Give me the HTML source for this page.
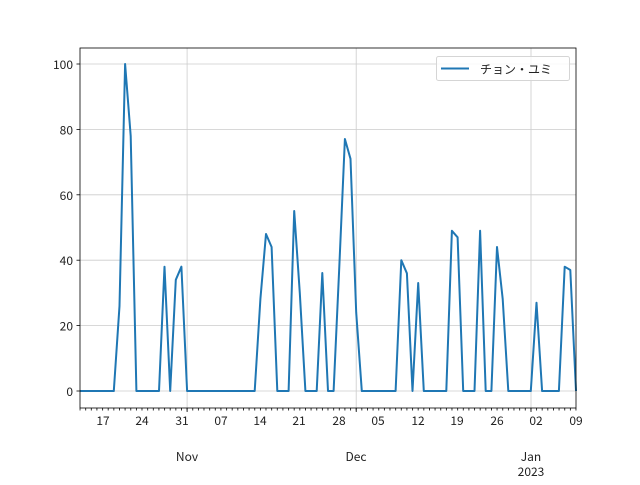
<!DOCTYPE html>
<html><head><meta charset="utf-8"><style>
html,body{margin:0;padding:0;background:#fff;}
svg text{font-family:"Noto Sans CJK JP","DejaVu Sans",sans-serif;font-size:12px;fill:#222;}
</style></head><body>
<svg width="640" height="480" xmlns="http://www.w3.org/2000/svg">
<defs>
<pattern id="tk" x="79.6" y="408" width="5.636" height="3" patternUnits="userSpaceOnUse">
<rect x="0" y="0" width="0.8" height="3" fill="#000"/>
</pattern>
</defs>
<rect width="640" height="480" fill="#fff"/>
<g stroke="#cccccc" stroke-width="0.8">
<line x1="80" x2="576" y1="391" y2="391"/><line x1="80" x2="576" y1="325.6" y2="325.6"/>
<line x1="80" x2="576" y1="260.2" y2="260.2"/><line x1="80" x2="576" y1="194.8" y2="194.8"/>
<line x1="80" x2="576" y1="129.4" y2="129.4"/><line x1="80" x2="576" y1="64" y2="64"/>
<line x1="187.1" x2="187.1" y1="48" y2="408"/><line x1="356.2" x2="356.2" y1="48" y2="408"/>
<line x1="531" x2="531" y1="48" y2="408"/>
</g>
<polyline fill="none" stroke="#1f77b4" stroke-width="2" stroke-linejoin="round" points="
80,391 113.8,391 119.5,306 125.1,64 130.7,136 136.4,391 159,391 164.5,266.7 170.2,391 175.8,279.8 181.4,266.7 187.1,391 254.7,391 260.4,299 266,234 271.6,247 277.3,391 288.6,391 294.2,211 299.8,293 305.4,391 316.7,391 322.3,273 328,391 333.6,391 339.3,266.7 344.9,139 350.5,158.8 356.2,312.5 361.8,391 395.6,391 401.3,260.2 406.9,273.3 412.5,391 418.2,283 423.8,391 446.3,391 451.9,230.8 457.6,237.3 463.2,391 474.5,391 480.1,230.8 485.7,391 491.4,391 497,247 502.7,299 508.3,391 530.8,391 536.5,302.7 542.1,391 558.9,391 564.7,266.7 570.3,270 576,391"/>
<rect x="80" y="48" width="496" height="360" fill="none" stroke="#000" stroke-width="0.8"/>
<g stroke="#000" stroke-width="0.8">
<line x1="76.5" x2="80" y1="391" y2="391"/><line x1="76.5" x2="80" y1="325.6" y2="325.6"/>
<line x1="76.5" x2="80" y1="260.2" y2="260.2"/><line x1="76.5" x2="80" y1="194.8" y2="194.8"/>
<line x1="76.5" x2="80" y1="129.4" y2="129.4"/><line x1="76.5" x2="80" y1="64" y2="64"/>
<line x1="187.1" x2="187.1" y1="408" y2="412"/><line x1="356.2" x2="356.2" y1="408" y2="412"/>
<line x1="531" x2="531" y1="408" y2="412"/>
</g>
<rect x="79.6" y="408" width="497" height="2.5" fill="url(#tk)"/>
<g text-anchor="end">
<text x="73" y="396">0</text><text x="73" y="330.6">20</text><text x="73" y="265.2">40</text>
<text x="73" y="199.8">60</text><text x="73" y="134.4">80</text><text x="73" y="69">100</text>
</g>
<g text-anchor="middle">
<text x="103" y="425">17</text><text x="142" y="425">24</text><text x="182" y="425">31</text>
<text x="221" y="425">07</text><text x="260" y="425">14</text><text x="299" y="425">21</text>
<text x="339" y="425">28</text><text x="378" y="425">05</text><text x="418" y="425">12</text>
<text x="457" y="425">19</text><text x="497" y="425">26</text><text x="536" y="425">02</text>
<text x="576" y="425">09</text>
<text x="187" y="461">Nov</text><text x="356" y="461">Dec</text>
<text x="531" y="461">Jan</text><text x="531" y="476">2023</text>
</g>
<rect x="436.5" y="56.5" width="133" height="24" rx="2" fill="#fff" fill-opacity="0.8" stroke="#d5d5d5"/>
<line x1="441" x2="469" y1="68.5" y2="68.5" stroke="#1f77b4" stroke-width="2"/>
<text x="480" y="73.5">チョン・ユミ</text>
</svg>
</body></html>
